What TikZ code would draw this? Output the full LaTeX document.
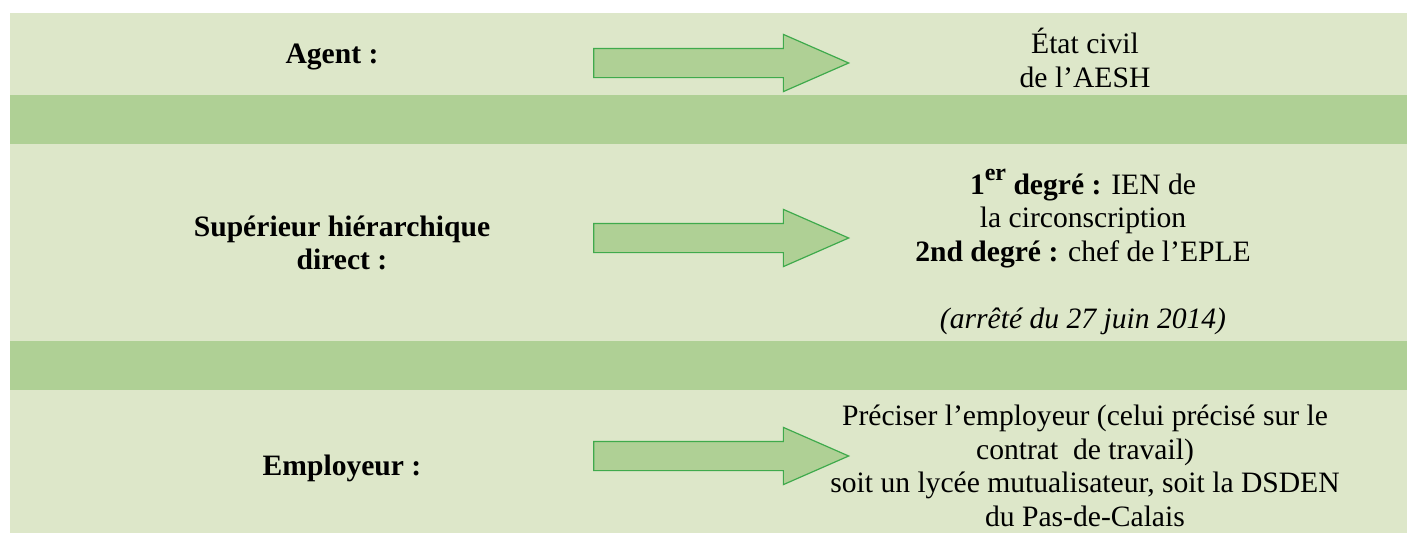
\documentclass[tikz,border=0pt]{standalone}
\usetikzlibrary{shapes.arrows}
\usepackage{xcolor}
\usepackage{fontspec}
\setmainfont{Liberation Serif}

\definecolor{pale}{HTML}{DDE7C9}
\definecolor{band}{HTML}{AFD095}
\definecolor{edge}{HTML}{3FAA4C}

\begin{document}
\begin{tikzpicture}[x=1pt, y=-1pt]
 \tikzstyle{every node}=[font=\fontsize{29.6}{33.5}\selectfont, align=center,
                       inner sep=0pt]
 \tikzstyle{bigarrow}=[shape=single arrow, draw=edge, fill=band,
                       line width=1.2pt, inner xsep=0pt, inner ysep=14pt,
                       minimum height=255pt, single arrow head extend=14pt,
                       single arrow tip angle=47.3, single arrow head indent=0pt]

        \useasboundingbox (0,0) rectangle (1407,533);
        \fill[white] (0,0) rectangle (1407,533);
        \fill[pale] (10,13) rectangle (1407,533);
        \fill[band] (10,95) rectangle (1407,144);   %band 1
        \fill[band] (10,341) rectangle (1407,390);  %band 2

        \node (agent) at (332,57) {\textbf{Agent :}};
        \node[bigarrow] (arrA) at (704.5,63) {};
        \node (etat) at (1085,58) {État civil\\ de l’AESH};

        \node (sup) at (342,243) {\textbf{Supérieur hiérarchique}\\ \textbf{direct :}};
        \node[bigarrow] (arrB) at (704.5,238) {};
        \node (deg) at (1083,252) {\textbf{1\raisebox{0.45em}{\fontsize{24}{24}\selectfont er} degré :} IEN de\\
              la circonscription\\ \textbf{2nd degré :} chef de l’EPLE\\ ~\\
              \textit{(arrêté du 27 juin 2014)}};

        \node (empl) at (342,468) {\textbf{Employeur :}};
        \node[bigarrow] (arrC) at (704.5,456) {};
        \node (prec) at (1085,466) {Préciser l’employeur (celui précisé sur le\\
              contrat\ \ de travail)\\ soit un lycée mutualisateur, soit la DSDEN\\
              du Pas-de-Calais};

\end{tikzpicture}
\end{document}
